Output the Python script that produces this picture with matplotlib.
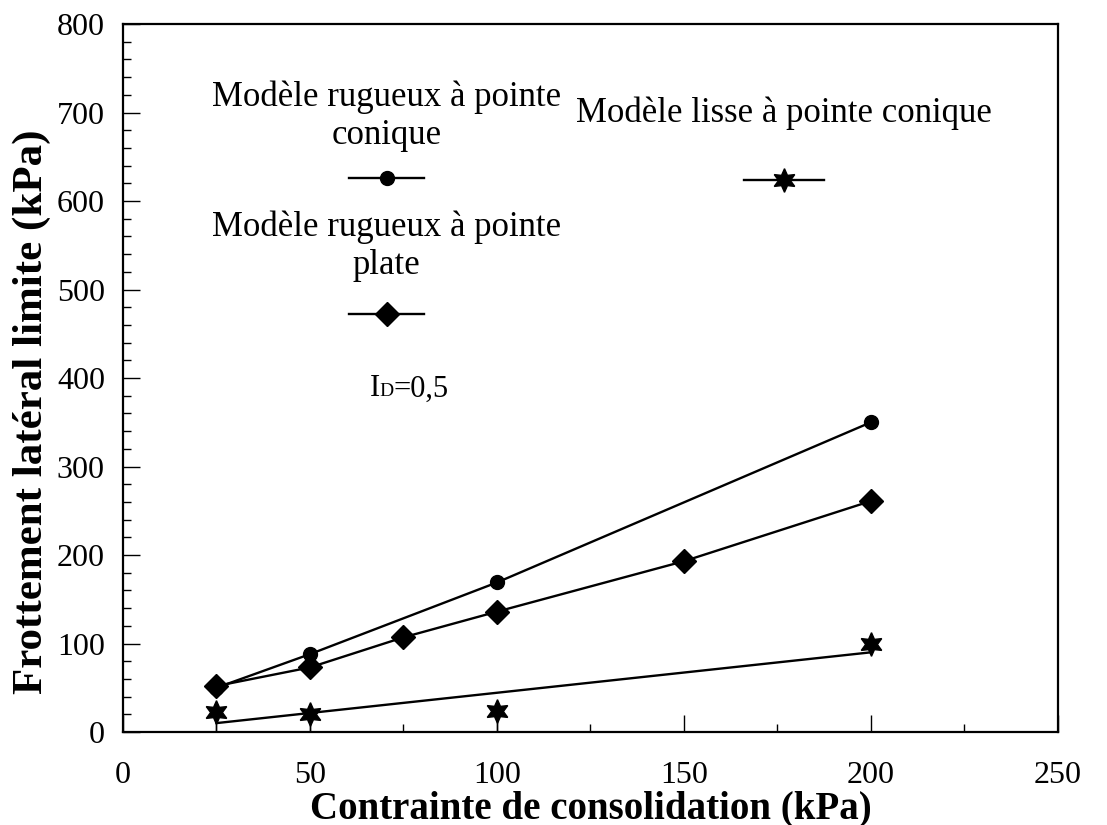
import matplotlib
matplotlib.use("Agg")
import matplotlib.pyplot as plt
import numpy as np

# data
x_conique = [25, 50, 100, 200]
y_conique = [50, 88, 169, 350]
x_plate = [25, 50, 75, 100, 150, 200]
y_plate = [52, 73, 107, 136, 193, 261]
x_lisse = [25, 50, 100, 200]
y_lisse = [23, 20, 24, 99]

lab_conique = "Modèle rugueux à pointe\nconique"
lab_plate = "Modèle rugueux à pointe\nplate"
lab_lisse = "Modèle lisse à pointe conique"

plt.rcParams["font.family"] = "Liberation Serif"

fig = plt.figure(figsize=(11.07, 8.25), dpi=100)
ax = fig.add_axes([0.1111, 0.1127, 0.8446, 0.8582])

star = (6, 1, 0)
# rough conical tip
ax.plot(x_conique, y_conique, color="black", lw=1.7, marker="o", ms=10, zorder=3)
# rough flat tip
ax.plot(x_plate, y_plate, color="black", lw=1.7, marker="D", ms=12, zorder=4)
# smooth conical tip: points + linear fit
ax.vlines(x_lisse[:3], 0, y_lisse[:3], color="black", lw=1)
ax.plot(x_lisse, y_lisse, ls="none", color="black", marker=star, ms=17, zorder=3)
a, b = np.polyfit(x_lisse, y_lisse, 1)
xf = np.array([min(x_lisse), max(x_lisse)])
ax.plot(xf, a * xf + b, color="black", lw=1.7, zorder=2)

ax.set_xlim(0, 250)
ax.set_ylim(0, 800)
ax.set_xticks(np.arange(0, 251, 50))
ax.set_xticks(np.arange(0, 251, 25), minor=True)
ax.set_yticks(np.arange(0, 801, 100))
ax.set_yticks(np.arange(0, 801, 20), minor=True)
ax.tick_params(which="both", direction="in", top=False, right=False, width=1)
ax.tick_params(which="major", length=12, labelsize=23)
ax.tick_params(which="minor", length=6)
ax.tick_params(axis="y", pad=13)
ax.tick_params(axis="x", pad=21)
for s in ax.spines.values():
    s.set_linewidth(1.6)

ax.set_xlabel("Contrainte de consolidation (kPa)", fontsize=28, fontweight="bold", labelpad=0)
ax.set_ylabel("Frottement latéral limite (kPa)", fontsize=31, fontweight="bold")
ax.yaxis.set_label_coords(-0.077, 0.452)

# in-plot key texts
tk = dict(fontsize=25, ha="center", va="center", linespacing=1.2)
ax.text(0.282, 0.870, lab_conique, transform=ax.transAxes, **tk)
ax.text(0.282, 0.686, lab_plate, transform=ax.transAxes, **tk)
ax.text(0.707, 0.874, lab_lisse, transform=ax.transAxes, **tk)
ax.plot([0.242, 0.282, 0.322], [0.782] * 3, color="black", lw=1.7,
        marker="o", ms=10, markevery=[1], transform=ax.transAxes, clip_on=False)
ax.plot([0.242, 0.282, 0.322], [0.590] * 3, color="black", lw=1.7,
        marker="D", ms=12, markevery=[1], transform=ax.transAxes, clip_on=False)
ax.plot([0.664, 0.707, 0.750], [0.780] * 3, color="black", lw=1.7,
        marker=star, ms=17, markevery=[1], transform=ax.transAxes, clip_on=False)

ax.text(0.264, 0.474, "I", transform=ax.transAxes, fontsize=22, ha="left", va="baseline")
ax.annotate("D", xy=(0.264, 0.474), xycoords="axes fraction", xytext=(7, 0),
            textcoords="offset points", fontsize=14, ha="left", va="baseline")
ax.annotate("=0,5", xy=(0.264, 0.474), xycoords="axes fraction", xytext=(17, 0),
            textcoords="offset points", fontsize=22, ha="left", va="baseline")

fig.savefig("out.png", dpi=100)
